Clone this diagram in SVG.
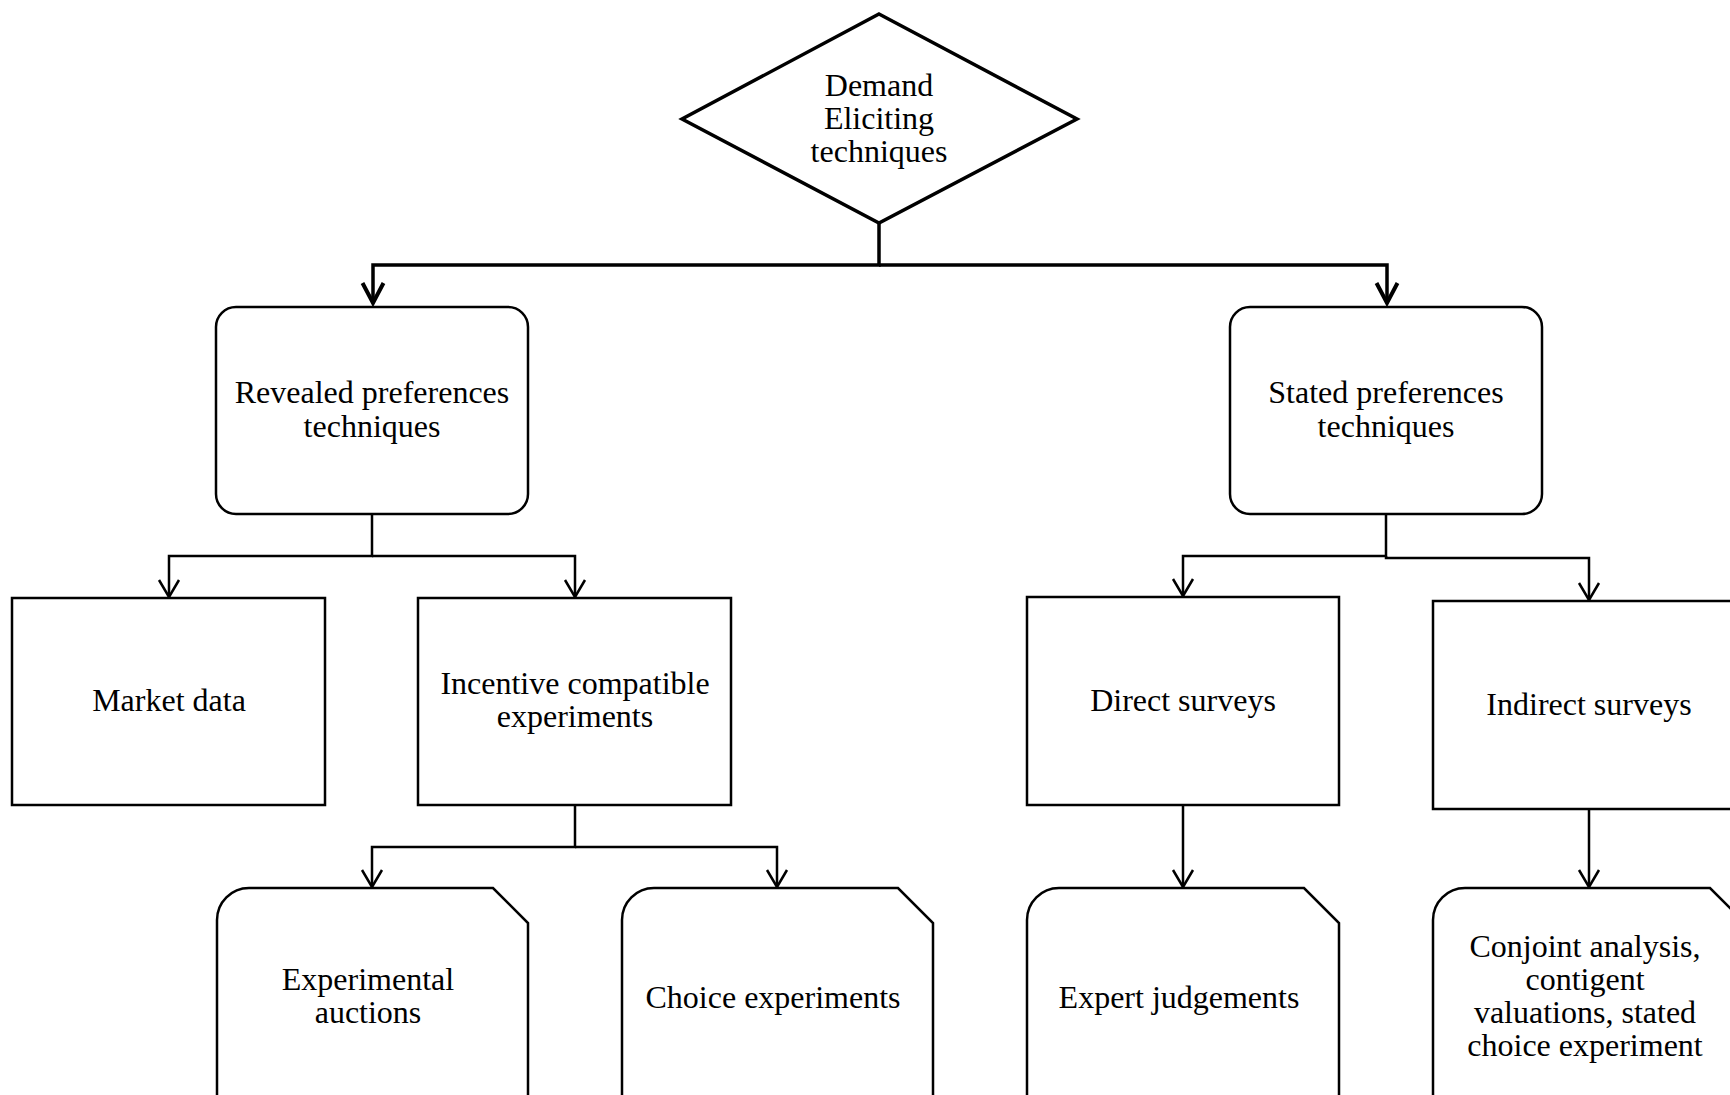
<svg xmlns="http://www.w3.org/2000/svg" width="1730" height="1095" viewBox="0 0 1730 1095">
<style>
  .bg { fill: #ffffff; }
  .node { fill: #ffffff; stroke: #000000; stroke-width: 2.5; stroke-linejoin: miter; }
  .thick { stroke-width: 3.5; }
  .lbl { font-family: "Liberation Serif", "Times New Roman", serif; font-size: 32px; fill: #000000; text-anchor: middle; }
  .conn { fill: none; stroke: #000000; stroke-width: 2.5; }
  .conn.main { stroke-width: 3.5; }
</style>
<defs>
  <marker id="arrowBig" viewBox="-25 -15 30 30" refX="0" refY="0" markerWidth="30" markerHeight="30" markerUnits="userSpaceOnUse" orient="auto" overflow="visible">
    <path d="M-20,-10.5 L0,0 L-20,10.5" fill="none" stroke="#000" stroke-width="4"/>
  </marker>
  <marker id="arrow" viewBox="-25 -15 30 30" refX="0" refY="0" markerWidth="30" markerHeight="30" markerUnits="userSpaceOnUse" orient="auto" overflow="visible">
    <path d="M-17,-10 L0,0 L-17,10" fill="none" stroke="#000" stroke-width="2.5"/>
  </marker>
</defs>
<rect class="bg" x="0" y="0" width="1730" height="1095"/>

<g id="connectors">
  <path class="conn main" d="M879,223 V265 H373 V303" marker-end="url(#arrowBig)"/>
  <path class="conn main" d="M879,265 H1387 V303" marker-end="url(#arrowBig)"/>
  <path class="conn" d="M372,514 V556 H169 V597" marker-end="url(#arrow)"/>
  <path class="conn" d="M372,556 H575 V597" marker-end="url(#arrow)"/>
  <path class="conn" d="M1386,514 V556 H1183 V596" marker-end="url(#arrow)"/>
  <path class="conn" d="M1386,556 V558 H1589 V600" marker-end="url(#arrow)"/>
  <path class="conn" d="M575,805 V847 H372 V887" marker-end="url(#arrow)"/>
  <path class="conn" d="M575,847 H777 V887" marker-end="url(#arrow)"/>
  <path class="conn" d="M1183,805 V887" marker-end="url(#arrow)"/>
  <path class="conn" d="M1589,809 V887" marker-end="url(#arrow)"/>
</g>

<g id="demand">
  <polygon class="node thick" points="879,14 1077,119 879,223 682,119"/>
  <text class="lbl" x="879" y="96">Demand</text>
  <text class="lbl" x="879" y="129">Eliciting</text>
  <text class="lbl" x="879" y="162">techniques</text>
</g>

<g id="revealed">
  <rect class="node" x="216" y="307" width="312" height="207" rx="20" ry="20"/>
  <text class="lbl" x="372" y="403">Revealed preferences</text>
  <text class="lbl" x="372" y="437">techniques</text>
</g>

<g id="stated">
  <rect class="node" x="1230" y="307" width="312" height="207" rx="20" ry="20"/>
  <text class="lbl" x="1386" y="403">Stated preferences</text>
  <text class="lbl" x="1386" y="437">techniques</text>
</g>

<g id="market-data">
  <rect class="node" x="12" y="598" width="313" height="207"/>
  <text class="lbl" x="169" y="711">Market data</text>
</g>

<g id="incentive">
  <rect class="node" x="418" y="598" width="313" height="207"/>
  <text class="lbl" x="575" y="694">Incentive compatible</text>
  <text class="lbl" x="575" y="727">experiments</text>
</g>

<g id="direct">
  <rect class="node" x="1027" y="597" width="312" height="208"/>
  <text class="lbl" x="1183" y="711">Direct surveys</text>
</g>

<g id="indirect">
  <rect class="node" x="1433" y="601" width="313" height="208"/>
  <text class="lbl" x="1589" y="715">Indirect surveys</text>
</g>

<g id="auctions">
  <path class="node" d="M217,1110 V920 A32,32 0 0 1 249,888 H493 L528,923 V1110"/>
  <text class="lbl" x="368" y="990">Experimental</text>
  <text class="lbl" x="368" y="1023">auctions</text>
</g>

<g id="choice">
  <path class="node" d="M622,1110 V920 A32,32 0 0 1 654,888 H898 L933,923 V1110"/>
  <text class="lbl" x="773" y="1008">Choice experiments</text>
</g>

<g id="expert">
  <path class="node" d="M1027,1110 V920 A32,32 0 0 1 1059,888 H1304 L1339,923 V1110"/>
  <text class="lbl" x="1179" y="1008">Expert judgements</text>
</g>

<g id="conjoint">
  <path class="node" d="M1433,1110 V920 A32,32 0 0 1 1465,888 H1710 L1745,923 V1110"/>
  <text class="lbl" x="1585" y="957">Conjoint analysis,</text>
  <text class="lbl" x="1585" y="990">contigent</text>
  <text class="lbl" x="1585" y="1023">valuations, stated</text>
  <text class="lbl" x="1585" y="1056">choice experiment</text>
</g>
</svg>
